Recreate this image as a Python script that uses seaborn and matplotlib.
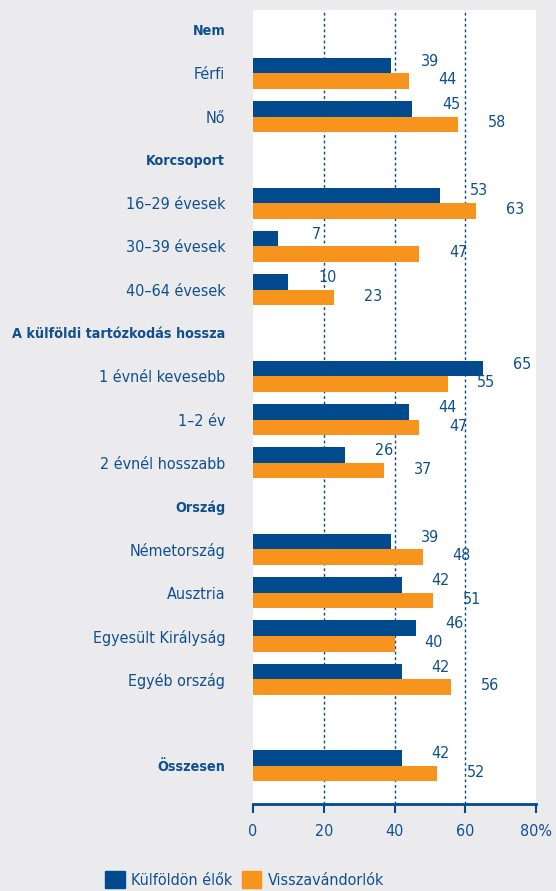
import matplotlib
matplotlib.use("Agg")
import matplotlib.pyplot as plt
import matplotlib.patches as mpatches
import seaborn as sns
import pandas as pd

sns.set_theme(style="white")
plt.rcParams["font.family"] = ["DejaVu Sans"]
plt.rcParams["font.stretch"] = "condensed"

# rows top to bottom; headers have no bars
rows = ["Nem", "Férfi", "Nő", "Korcsoport", "16–29 évesek", "30–39 évesek",
        "40–64 évesek", "A külföldi tartózkodás hossza", "1 évnél kevesebb",
        "1–2 év", "2 évnél hosszabb", "Ország", "Németország", "Ausztria",
        "Egyesült Királyság", "Egyéb ország", " ", "Összesen"]
headers = ["Nem", "Korcsoport", "A külföldi tartózkodás hossza", "Ország", "Összesen"]

categories = ["Férfi", "Nő", "16–29 évesek", "30–39 évesek", "40–64 évesek",
              "1 évnél kevesebb", "1–2 év", "2 évnél hosszabb", "Németország",
              "Ausztria", "Egyesült Királyság", "Egyéb ország", "Összesen"]
kulfoldon = [39, 45, 53, 7, 10, 65, 44, 26, 39, 42, 46, 42, 42]
visszavandorlok = [44, 58, 63, 47, 23, 55, 47, 37, 48, 51, 40, 56, 52]
series = ["Külföldön élők", "Visszavándorlók"]

xticks = [0, 20, 40, 60, 80]
xticklabels = ["0", "20", "40", "60", "80%"]

BLUE = "#004a8d"
ORANGE = "#f7941d"
TEXT = "#10508f"
BG = "#ebebee"
FS = 11.5

df = pd.DataFrame({
    "cat": categories * 2,
    "series": [series[0]] * len(categories) + [series[1]] * len(categories),
    "value": kulfoldon + visszavandorlok,
})

fig = plt.figure(figsize=(5.56, 8.91), dpi=100, facecolor=BG)
ax = fig.add_axes([253 / 556, 1 - 804 / 891, 283 / 556, 794 / 891])
ax.set_facecolor("white")

sns.barplot(data=df, x="value", y="cat", hue="series", order=rows,
            hue_order=series, palette=[BLUE, ORANGE], saturation=1, width=0.72,
            orient="h", linewidth=0, legend=False, ax=ax, zorder=3)

# value labels
for i, container in enumerate(ax.containers):
    dy = -0.1 if i == 0 else -0.03
    for patch in container:
        w = patch.get_width()
        if pd.isna(w) or w == 0:
            continue
        yc = patch.get_y() + patch.get_height() / 2
        ax.text(w + 11, yc + dy, f"{w:.0f}", ha="center", va="center",
                fontsize=FS, color=TEXT)

ax.set_xlim(0, 80)
ax.set_ylim(17.88, -0.46)
ax.set_xticks(xticks)
ax.set_xticklabels(xticklabels, fontsize=FS, color=TEXT)
ax.set_xlabel("")
ax.set_ylabel("")

for x in [20, 40, 60]:
    ax.axvline(x, color=BLUE, linestyle=(0, (2, 2)), linewidth=1, zorder=1)

ax.set_yticks(range(len(rows)))
ax.set_yticklabels(rows)
for lab in ax.get_yticklabels():
    lab.set_color(TEXT)
    lab.set_fontsize(FS)
    if lab.get_text() in headers:
        lab.set_fontweight("bold")
        lab.set_fontsize(10.3)
ax.tick_params(axis="y", left=False, length=0, pad=20)
ax.tick_params(axis="x", bottom=True, direction="out", length=6.5, width=1.5,
               color=BLUE, pad=8)

for s in ["top", "right", "left"]:
    ax.spines[s].set_visible(False)
ax.spines["bottom"].set_color(BLUE)
ax.spines["bottom"].set_linewidth(2)

handles = [mpatches.Patch(color=BLUE, label=series[0]),
           mpatches.Patch(color=ORANGE, label=series[1])]
fig.legend(handles=handles, loc="center", bbox_to_anchor=(0.44, 0.013), ncol=2,
           frameon=False, fontsize=FS, labelcolor=TEXT, handlelength=1.2,
           handleheight=1.2, handletextpad=0.4, columnspacing=0.6)

fig.savefig("out.png", dpi=100, facecolor=BG)
